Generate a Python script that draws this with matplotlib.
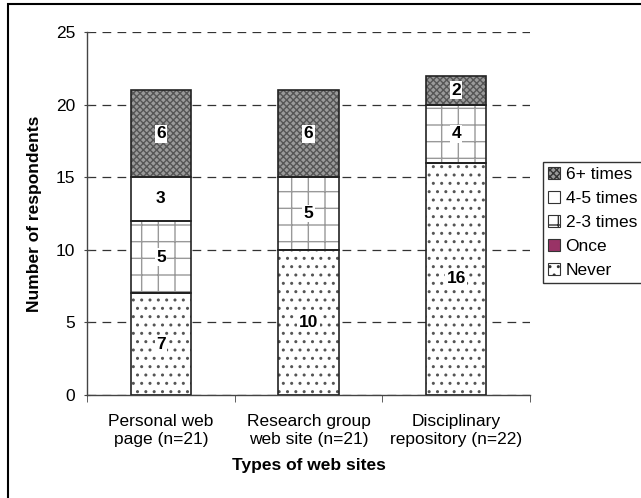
import matplotlib.pyplot as plt
import numpy as np
from matplotlib.patches import Rectangle, Patch

plt.rcParams["font.family"] = ["Liberation Sans", "DejaVu Sans"]
plt.rcParams["hatch.linewidth"] = 1.0

categories = ["Personal web\npage (n=21)", "Research group\nweb site (n=21)", "Disciplinary\nrepository (n=22)"]
series_names = ["Never", "Once", "2-3 times", "4-5 times", "6+ times"]
never = [7, 10, 16]
once = [0, 0, 0]
two_three = [5, 5, 4]
four_five = [3, 0, 0]
six_plus = [6, 6, 2]
y_ticks = [0, 5, 10, 15, 20, 25]

FS = 12.5

series = [never, once, two_three, four_five, six_plus]
styles = [
    dict(facecolor="white", hatch="..", hatch_color="#555555"),
    dict(facecolor="#993366", hatch="", hatch_color="black"),
    dict(facecolor="white", hatch="+", hatch_color="#999999"),
    dict(facecolor="white", hatch="", hatch_color="black"),
    dict(facecolor="#9a9a9a", hatch="xxxxx", hatch_color="#555555"),
]

fig = plt.figure(figsize=(6.41, 4.98), dpi=100)
ax = fig.add_axes([87 / 641, 1 - 395 / 498, 443 / 641, 363 / 498])

x = np.arange(len(categories))
bottom = np.zeros(len(categories))
for name, vals, st in zip(series_names, series, styles):
    vals = np.array(vals, dtype=float)
    ax.bar(x, vals, width=0.41, bottom=bottom, facecolor=st["facecolor"],
           edgecolor=st["hatch_color"], hatch=st["hatch"], linewidth=0, zorder=2)
    # outline
    ax.bar(x, vals, width=0.41, bottom=bottom, fill=False, edgecolor="#222222",
           linewidth=1.2, zorder=3)
    for xi, v, b in zip(x, vals, bottom):
        if v > 0:
            ax.text(xi, b + v / 2, f"{int(v)}", ha="center", va="center",
                    fontsize=FS, fontweight="bold", zorder=4,
                    bbox=dict(facecolor="white", edgecolor="none", pad=1))
    bottom += vals

ax.set_xlim(-0.5, 2.5)
ax.set_ylim(0, 25)
ax.set_yticks(y_ticks)
ax.yaxis.grid(True, linestyle=(0, (7, 5)), color="#333333", linewidth=0.9, zorder=0)
ax.set_axisbelow(True)
ax.set_xticks(x)
ax.set_xticklabels(categories, fontsize=FS)
ax.set_xticks([-0.5, 0.5, 1.5, 2.5], minor=True)
ax.tick_params(axis="x", which="major", length=0, pad=14)
ax.tick_params(axis="x", which="minor", length=5, direction="out", color="#444444")
ax.tick_params(axis="y", length=5, direction="inout", labelsize=FS, color="#444444", pad=6)
for s in ["top", "right"]:
    ax.spines[s].set_visible(False)
for s in ["left", "bottom"]:
    ax.spines[s].set_color("#444444")
    ax.spines[s].set_linewidth(1.0)

ax.set_ylabel("Number of respondents", fontsize=FS, fontweight="bold", labelpad=10)
ax.set_xlabel("Types of web sites", fontsize=FS, fontweight="bold", labelpad=8)

handles = []
for name, st in zip(series_names, styles):
    handles.append(Patch(facecolor=st["facecolor"], edgecolor="#333333", hatch=st["hatch"],
                         linewidth=0.8, label=name))
leg = fig.legend(handles[::-1], series_names[::-1], loc="lower left",
                 bbox_to_anchor=(543 / 641, 1 - 283 / 498), fontsize=FS,
                 frameon=True, fancybox=False, handlelength=0.7, handleheight=0.7,
                 handletextpad=0.3, borderpad=0.3, labelspacing=0.5, borderaxespad=0)
leg.get_frame().set_edgecolor("black")
leg.get_frame().set_linewidth(1.0)

fig.patches.append(Rectangle((8 / 641, -0.1), 1.0, 1 - 4 / 498 + 0.1, transform=fig.transFigure,
                             fill=False, edgecolor="black", linewidth=1.5))

fig.savefig("out.png", dpi=100)
